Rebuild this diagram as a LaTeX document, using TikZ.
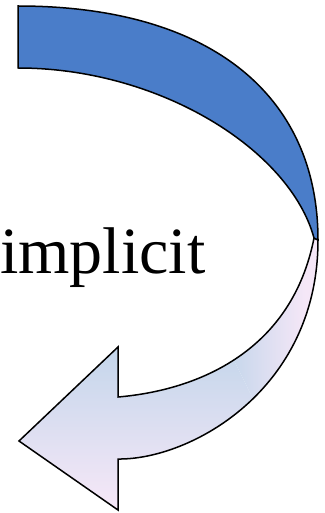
\documentclass[tikz,border=0pt]{standalone}
\usepackage{fontspec}
\setmainfont{Liberation Serif}
\definecolor{bandblue}{RGB}{74,125,201}
\definecolor{softblue}{RGB}{196,214,235}
\definecolor{softpink}{RGB}{245,231,247}
\tikzset{
  outline/.style={draw=black, line width=1.5pt, line join=miter},
  label/.style={inner sep=0pt, anchor=base west, font=\fontsize{66}{66}\selectfont}
}
\begin{document}
\begin{tikzpicture}[x=1pt, y=-1pt]
\useasboundingbox (0,0) rectangle (324,513);
% text
\node[label] (txt) at (0,273) {implicit};
% lower (gradient) part
\def\lowerpath{(314,238) .. controls (292,350) and (200,390) .. (118,397) -- (118,347) -- (19,441) -- (118,510) -- (118,459) .. controls (190,460) and (318,390) .. (318,240) -- cycle}
\begin{scope}
  \clip \lowerpath;
  % region left of / below the diagonal: vertical gradient
  \begin{scope}
    \clip (74,34) -- (382,662) -- (-200,662) -- (-200,34) -- cycle;
    \fill[softblue] (-200,-50) rectangle (420,348);
    \shade[top color=softblue, bottom color=softpink] (-200,348) rectangle (420,505);
    \fill[softpink] (-200,505) rectangle (420,700);
  \end{scope}
  % region right of / above the diagonal: horizontal gradient
  \begin{scope}
    \clip (74,34) -- (382,662) -- (600,662) -- (600,-100) -- (74,-100) -- cycle;
    \fill[softblue] (-200,-100) rectangle (228,700);
    \shade[left color=softblue, right color=softpink] (228,-100) rectangle (305,700);
    \fill[softpink] (305,-100) rectangle (600,700);
  \end{scope}
\end{scope}
\draw[outline] \lowerpath;
% upper (solid blue) part
\draw[outline, fill=bandblue] (18,6) .. controls (210,6) and (318,95) .. (318,240) -- (314,238) .. controls (290,150) and (160,68) .. (18,68) -- cycle;
\end{tikzpicture}
\end{document}
